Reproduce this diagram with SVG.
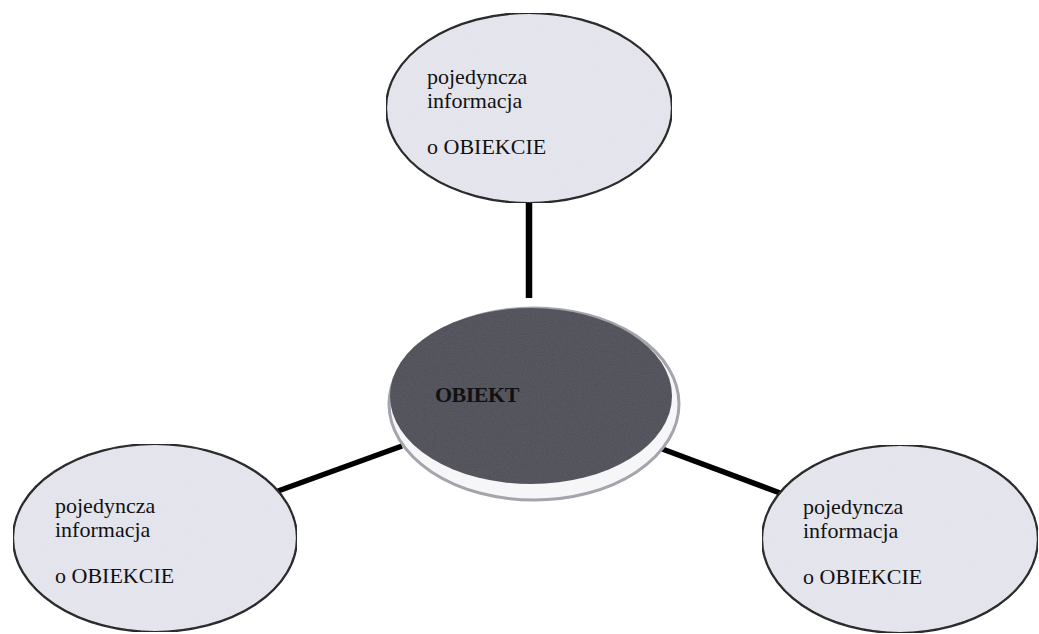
<svg xmlns="http://www.w3.org/2000/svg" width="1039" height="634" viewBox="0 0 1039 634">
  <defs>
    <style>
      .info { fill: #e6e6ef; stroke: #111; stroke-width: 2.2; }
      .label { font-family: "Liberation Serif", "Times New Roman", serif; font-size: 22px; fill: #111; }
      .core { fill: #4b4b54; }
      .rim { fill: #f6f6f8; stroke: #a4a4ac; stroke-width: 3; }
      .link { stroke: #000; stroke-linecap: butt; fill: none; }
    </style>
    <filter id="grain" x="0" y="0" width="100%" height="100%">
      <feTurbulence type="fractalNoise" baseFrequency="0.9" numOctaves="2" seed="3" result="noise"/>
      <feColorMatrix in="noise" type="matrix"
        values="0 0 0 0 0.5  0 0 0 0 0.5  0 0 0 0 0.55  0 0 0 0.10 0" result="speck"/>
      <feComposite in="speck" in2="SourceGraphic" operator="in" result="speckIn"/>
      <feMerge>
        <feMergeNode in="SourceGraphic"/>
        <feMergeNode in="speckIn"/>
      </feMerge>
    </filter>
  </defs>

  <rect width="1039" height="634" fill="#ffffff"/>

  <!-- connectors -->
  <g id="connectors">
    <line class="link" x1="529" y1="202" x2="529" y2="298" stroke-width="6.5"/>
    <line class="link" x1="278" y1="491" x2="402" y2="446" stroke-width="5.5"/>
    <line class="link" x1="657" y1="447" x2="780" y2="493" stroke-width="5.5"/>
  </g>

  <!-- central node -->
  <g id="node-obiekt">
    <ellipse class="rim" cx="534" cy="404" rx="145" ry="96"/>
    <ellipse class="core" cx="531" cy="396" rx="141" ry="88" filter="url(#grain)"/>
    <text class="label" x="435" y="402" font-size="20" font-weight="bold" letter-spacing="-0.5">OBIEKT</text>
  </g>

  <!-- top node -->
  <g id="node-top">
    <ellipse class="info" cx="529" cy="108" rx="143" ry="95" filter="url(#grain)"/>
    <text class="label" x="427" y="84">pojedyncza</text>
    <text class="label" x="427" y="108">informacja</text>
    <text class="label" x="427" y="154">o OBIEKCIE</text>
  </g>

  <!-- bottom-left node -->
  <g id="node-left">
    <ellipse class="info" cx="155" cy="538" rx="142" ry="94" filter="url(#grain)"/>
    <text class="label" x="55" y="513">pojedyncza</text>
    <text class="label" x="55" y="537">informacja</text>
    <text class="label" x="55" y="583">o OBIEKCIE</text>
  </g>

  <!-- bottom-right node -->
  <g id="node-right">
    <ellipse class="info" cx="900" cy="539" rx="138" ry="94" filter="url(#grain)"/>
    <text class="label" x="803" y="514">pojedyncza</text>
    <text class="label" x="803" y="538">informacja</text>
    <text class="label" x="803" y="584">o OBIEKCIE</text>
  </g>
</svg>
